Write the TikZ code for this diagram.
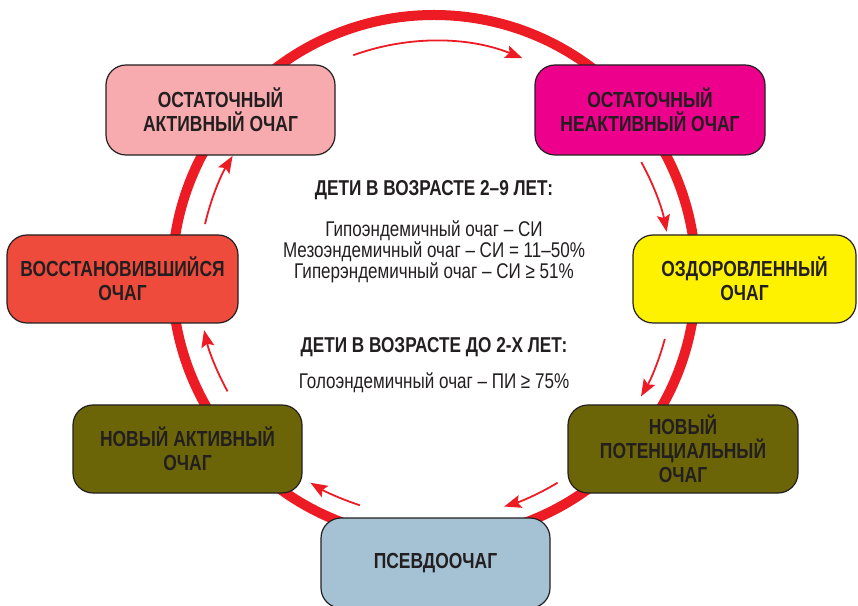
\documentclass[tikz,border=0pt]{standalone}
\usepackage{fontspec}
\setmainfont[FakeStretch=0.8]{Liberation Sans}
\usetikzlibrary{arrows.meta}
\definecolor{ringred}{HTML}{ED1C24}
\definecolor{txtdark}{HTML}{231F20}
\definecolor{cpink}{HTML}{F7ABAE}
\definecolor{cmagenta}{HTML}{EC008C}
\definecolor{cred}{HTML}{EF4B3C}
\definecolor{cyellow}{HTML}{FFF200}
\definecolor{colive}{HTML}{6B6508}
\definecolor{cblue}{HTML}{A4C2D3}
\tikzset{
  stagebox/.style={draw=txtdark, line width=1.2pt, rounded corners=20pt,
    minimum width=#1, align=center, text=txtdark,
    font=\fontsize{21.8}{24}\selectfont\bfseries, inner sep=0pt},
  flow/.style={draw=ringred, line width=1.8pt,
    -{Stealth[length=17pt,width=13pt,inset=3pt]}},
  headtxt/.style={text=txtdark, font=\fontsize{21.5}{21}\selectfont\bfseries, align=center},
  bodytxt/.style={text=txtdark, font=\fontsize{21.3}{21}\selectfont, align=center}
}
\begin{document}
\begin{tikzpicture}[x=1pt,y=1pt]
\useasboundingbox (0,0) rectangle (858,605);
\coordinate (C) at (434,328);
% big ring
\draw[ringred, line width=10pt] (C) circle[radius=262pt];
% boxes
\node[stagebox=229pt, minimum height=90pt, fill=cpink] (b1) at (220.5,495) {ОСТАТОЧНЫЙ\\АКТИВНЫЙ ОЧАГ};
\node[stagebox=230pt, minimum height=90pt, fill=cmagenta] (b2) at (650,495) {ОСТАТОЧНЫЙ\\НЕАКТИВНЫЙ ОЧАГ};
\node[stagebox=223pt, minimum height=88pt, fill=cyellow] (b3) at (744.5,326) {ОЗДОРОВЛЕННЫЙ\\ОЧАГ};
\node[stagebox=230pt, minimum height=88pt, fill=colive] (b4) at (683,156) {НОВЫЙ\\ПОТЕНЦИАЛЬНЫЙ\\ОЧАГ};
\node[stagebox=229pt, minimum height=90pt, fill=cblue] (b5) at (435.5,42) {ПСЕВДООЧАГ};
\node[stagebox=229pt, minimum height=88pt, fill=colive] (b6) at (187.5,156) {НОВЫЙ АКТИВНЫЙ\\ОЧАГ};
\node[stagebox=231pt, minimum height=88pt, fill=cred] (b7) at (122.5,326) {ВОССТАНОВИВШИЙСЯ\\ОЧАГ};
% flow arrows
\draw[flow] ([shift={(110:236pt)}]C) arc[start angle=110, end angle=68, radius=236pt];
\draw[flow] ([shift={(29:237pt)}]C) arc[start angle=29, end angle=11, radius=237pt];
\draw[flow] ([shift={(-15:239pt)}]C) arc[start angle=-15, end angle=-30, radius=239pt];
\draw[flow] ([shift={(-59:240pt)}]C) arc[start angle=-59, end angle=-73, radius=240pt];
\draw[flow] ([shift={(-108:240pt)}]C) arc[start angle=-108, end angle=-121, radius=240pt];
\draw[flow] ([shift={(209:236pt)}]C) arc[start angle=209, end angle=193, radius=236pt];
\draw[flow] ([shift={(167:235pt)}]C) arc[start angle=167, end angle=149, radius=235pt];
% centre text
\node[headtxt] (h1) at (434,415) {ДЕТИ В ВОЗРАСТЕ 2–9 ЛЕТ:};
\node[bodytxt] (t1) at (434,353) {Гипоэндемичный очаг – СИ\\Мезоэндемичный очаг – СИ = 11–50\%\\Гиперэндемичный очаг – СИ ≥ 51\%};
\node[headtxt] (h2) at (434,258) {ДЕТИ В ВОЗРАСТЕ ДО 2-Х ЛЕТ:};
\node[bodytxt] (t2) at (434,222) {Голоэндемичный очаг – ПИ ≥ 75\%};
\end{tikzpicture}
\end{document}
